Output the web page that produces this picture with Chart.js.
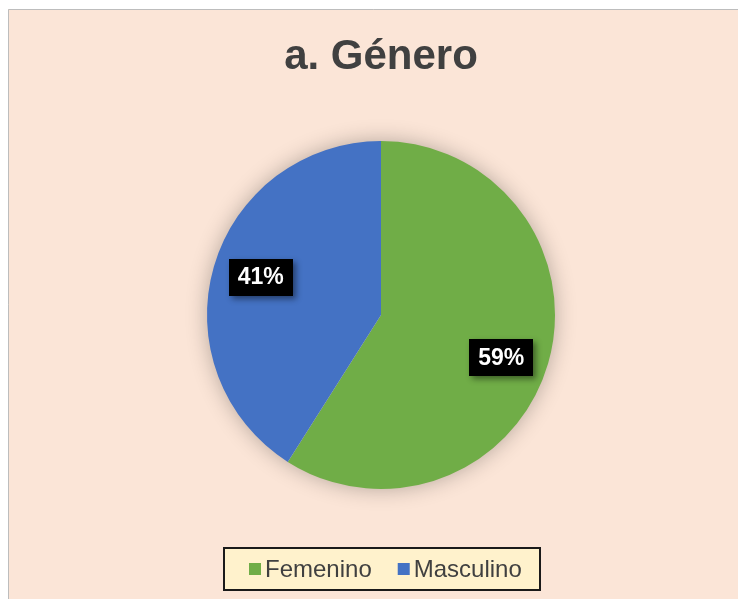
<!DOCTYPE html>
<html>
<head>
<meta charset="utf-8">
<script src="https://cdn.jsdelivr.net/npm/chart.js@4.4.1/dist/chart.umd.min.js"></script>
<style>
  html, body { margin: 0; padding: 0; background: #ffffff; }
  #wrap { position: absolute; left: 0; top: 0; width: 738px; height: 599px; }
</style>
</head>
<body>
<div id="wrap"><canvas id="c" width="738" height="599"></canvas></div>
<script>
const chartTitle = 'a. Género';
const categories = ['Femenino', 'Masculino'];
const values = [59, 41];
const sliceColors = ['#70AD47', '#4472C4'];

const FONT = '"Liberation Sans", Arial, sans-serif';

const backgroundPlugin = {
  id: 'bgPanel',
  beforeDraw(chart) {
    const ctx = chart.ctx;
    ctx.save();
    ctx.fillStyle = '#ffffff';
    ctx.fillRect(0, 0, chart.width, chart.height);
    ctx.fillStyle = '#FBE5D7';
    ctx.fillRect(8, 9, chart.width - 8, chart.height - 9);
    ctx.strokeStyle = '#BDBDBD';
    ctx.lineWidth = 1;
    ctx.beginPath();
    ctx.moveTo(8.5, chart.height);
    ctx.lineTo(8.5, 9.5);
    ctx.lineTo(chart.width, 9.5);
    ctx.stroke();
    ctx.restore();
  }
};

const pieShadowPlugin = {
  id: 'pieShadow',
  beforeDatasetsDraw(chart) {
    const arc = chart.getDatasetMeta(0).data[0];
    if (!arc) return;
    const ctx = chart.ctx;
    ctx.save();
    ctx.shadowColor = 'rgba(0,0,0,0.30)';
    ctx.shadowBlur = 22;
    ctx.shadowOffsetX = 0;
    ctx.shadowOffsetY = 0;
    ctx.fillStyle = '#FBE5D7';
    ctx.beginPath();
    ctx.arc(arc.x, arc.y, arc.outerRadius - 1, 0, Math.PI * 2);
    ctx.fill();
    ctx.restore();
  }
};

const labelPlugin = {
  id: 'boxLabels',
  afterDatasetsDraw(chart) {
    const ctx = chart.ctx;
    const meta = chart.getDatasetMeta(0);
    const total = values.reduce((a, b) => a + b, 0);
    meta.data.forEach((arc, i) => {
      const mid = (arc.startAngle + arc.endAngle) / 2;
      const r = arc.outerRadius * 0.72;
      const x = arc.x + Math.cos(mid) * r;
      const y = arc.y + Math.sin(mid) * r + (Math.sin(mid) > 0 ? 8 : -3);
      const txt = Math.round(values[i] / total * 100) + '%';
      const w = 64, h = 37;
      ctx.save();
      ctx.shadowColor = 'rgba(0,0,0,0.45)';
      ctx.shadowBlur = 6;
      ctx.shadowOffsetX = 3;
      ctx.shadowOffsetY = 3;
      ctx.fillStyle = '#000000';
      ctx.fillRect(Math.round(x - w / 2), Math.round(y - h / 2), w, h);
      ctx.restore();
      ctx.save();
      ctx.fillStyle = '#ffffff';
      ctx.font = 'bold 23px ' + FONT;
      ctx.textAlign = 'center';
      ctx.textBaseline = 'middle';
      ctx.fillText(txt, x, y + 1);
      ctx.restore();
    });
  }
};

const legendPlugin = {
  id: 'boxLegend',
  afterDraw(chart) {
    const ctx = chart.ctx;
    ctx.save();
    const bx = 224, by = 548, bw = 316, bh = 42;
    ctx.fillStyle = '#FFF2CC';
    ctx.fillRect(bx, by, bw, bh);
    ctx.strokeStyle = '#1a1a1a';
    ctx.lineWidth = 2;
    ctx.strokeRect(bx, by, bw, bh);
    ctx.font = '24px ' + FONT;
    ctx.textBaseline = 'middle';
    ctx.textAlign = 'left';
    let x = 249;
    const cy = 569;
    categories.forEach((c, i) => {
      ctx.fillStyle = sliceColors[i];
      ctx.fillRect(x, cy - 6, 12, 12);
      ctx.fillStyle = '#404040';
      ctx.fillText(c, x + 16, cy + 1);
      x += 16 + ctx.measureText(c).width + 26;
    });
    ctx.restore();
  }
};

new Chart(document.getElementById('c'), {
  type: 'pie',
  data: {
    labels: categories,
    datasets: [{
      data: values,
      backgroundColor: sliceColors,
      borderWidth: 0,
      hoverOffset: 0
    }]
  },
  options: {
    responsive: false,
    animation: false,
    devicePixelRatio: 1,
    layout: { padding: { top: 0, bottom: 110, left: 207, right: 183 } },
    plugins: {
      legend: { display: false },
      tooltip: { enabled: false },
      title: {
        display: true,
        text: chartTitle,
        color: '#404040',
        font: { family: FONT, size: 42, weight: 'bold', lineHeight: 1.2 },
        padding: { top: 32, bottom: 58.6 }
      }
    }
  },
  plugins: [backgroundPlugin, pieShadowPlugin, labelPlugin, legendPlugin]
});
</script>
</body>
</html>
